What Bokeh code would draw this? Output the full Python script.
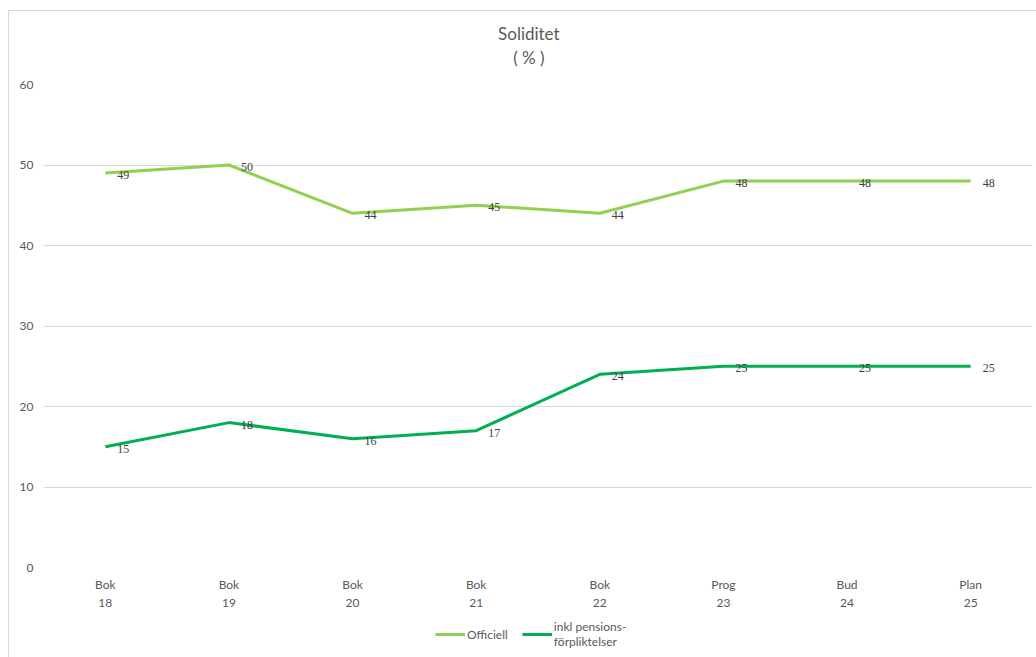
from bokeh.plotting import figure
from bokeh.layouts import column
from bokeh.models import (ColumnDataSource, Range1d, FactorRange, Legend, LegendItem,
                          Label, LabelSet, SingleIntervalTicker)
from bokeh.embed import file_html
from bokeh.resources import INLINE

# Solidity (%) by year
periods = ["Bok\n18", "Bok\n19", "Bok\n20", "Bok\n21", "Bok\n22", "Prog\n23", "Bud\n24", "Plan\n25"]
officiell = [49, 50, 44, 45, 44, 48, 48, 48]
inkl_pension = [15, 18, 16, 17, 24, 25, 25, 25]
series_names = ["Officiell", "inkl pensions-\nförpliktelser"]
title_lines = ["Soliditet", "( % )"]

FONT = "Lato"
TXT = "#595959"
LIGHT_GREEN = "#92D050"
DARK_GREEN = "#00B050"
W = 1027


def bare(fig):
    fig.outline_line_color = None
    fig.xgrid.grid_line_color = None
    fig.ygrid.grid_line_color = None
    return fig


# Header strip with the two-line title (ranges in pixels)
hdr = bare(figure(width=W, height=65, x_range=Range1d(0, W), y_range=Range1d(0, 65),
                  output_backend="svg", toolbar_location=None, min_border=0,
                  x_axis_type=None, y_axis_type=None))
for txt, ty in zip(title_lines, (43, 19)):
    hdr.add_layout(Label(x=504, y=ty, text=txt, text_align="center", text_baseline="middle",
                         text_font=FONT, text_font_size="17px", text_color=TXT))

src = ColumnDataSource(dict(
    x=periods,
    off=officiell,
    inkl=inkl_pension,
    off_lbl=[str(v) for v in officiell],
    inkl_lbl=[str(v) for v in inkl_pension],
))

p = figure(
    width=W, height=536,
    x_range=FactorRange(*periods, range_padding=0),
    y_range=Range1d(0, 60),
    output_backend="svg", toolbar_location=None,
    min_border_left=34, min_border_right=4, min_border_top=8, min_border_bottom=43,
)
p.x_range.factor_padding = 0
p.outline_line_color = None
p.border_fill_color = "white"

# Axes
p.yaxis.ticker = SingleIntervalTicker(interval=10)
for ax in (p.xaxis[0], p.yaxis[0]):
    ax.axis_line_color = None
    ax.major_tick_line_color = None
    ax.minor_tick_line_color = None
    ax.major_label_text_font = FONT
    ax.major_label_text_font_size = "12px"
    ax.major_label_text_color = TXT
p.yaxis.major_label_standoff = 4
p.xaxis.major_label_standoff = 3

p.xgrid.grid_line_color = None
p.ygrid.grid_line_color = "#d9d9d9"
p.ygrid.grid_line_width = 1

# Lines
r1 = p.line("x", "off", source=src, line_color=LIGHT_GREEN, line_width=3)
r2 = p.line("x", "inkl", source=src, line_color=DARK_GREEN, line_width=3)

# Value labels
for col, lbl in (("off", "off_lbl"), ("inkl", "inkl_lbl")):
    p.add_layout(LabelSet(x="x", y=col, text=lbl, source=src, x_offset=12, y_offset=-2,
                          text_font=FONT, text_font_size="12px", text_color="#404040",
                          text_align="left", text_baseline="middle"))

# Legend strip below the chart; the key renderers sit outside the visible range
lg = bare(figure(width=W, height=45, x_range=Range1d(0, 1), y_range=Range1d(0, 1),
                 output_backend="svg", toolbar_location=None,
                 min_border=0, x_axis_type=None, y_axis_type=None))
offscreen = ColumnDataSource(dict(x=[5, 6], y=[5, 6]))
k1 = lg.line("x", "y", source=offscreen, line_color=LIGHT_GREEN, line_width=3)
k2 = lg.line("x", "y", source=offscreen, line_color=DARK_GREEN, line_width=3)
legend = Legend(items=[
    LegendItem(label=series_names[0], renderers=[k1]),
    LegendItem(label=series_names[1], renderers=[k2]),
], orientation="horizontal", location=(392, 8),
    label_text_font=FONT, label_text_font_size="12px", label_text_color=TXT,
    glyph_width=30, label_standoff=2, spacing=14, border_line_color=None,
    background_fill_alpha=0, padding=0, margin=0)
lg.add_layout(legend, "center")

page = column(hdr, p, lg, spacing=0)
page.styles = {"margin-left": "8px", "margin-top": "10px",
               "border-left": "1px solid #d9d9d9", "border-top": "1px solid #d9d9d9"}

open("out.html", "w").write(file_html(page, INLINE))
